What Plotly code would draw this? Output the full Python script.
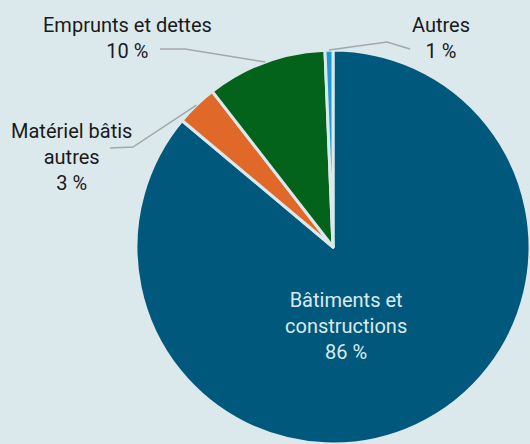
import math
import plotly.graph_objects as go

labels = ["Bâtiments et<br>constructions", "Matériel bâtis<br>autres", "Emprunts et dettes", "Autres"]
values = [86.1, 3.4, 9.85, 0.65]
colors = ["#00597c", "#e0692a", "#04631a", "#1b9ad6"]

W, H = 530, 444
BG = "#dce9ec"
FONT = "Roboto, sans-serif"

# pie domain in paper units
dom_x = [136 / W, 1.0]
dom_y = [0.0, 1 - 50 / H]

fig = go.Figure(go.Pie(
    labels=labels, values=values, sort=False, direction="clockwise", rotation=0,
    marker=dict(colors=colors, line=dict(color=BG, width=3)),
    textinfo="none", hoverinfo="label+percent", showlegend=False,
    domain=dict(x=dom_x, y=dom_y),
))

# geometry (pixels) derived from domain
dw = (dom_x[1] - dom_x[0]) * W
dh = (dom_y[1] - dom_y[0]) * H
r = min(dw, dh) / 2
cx = dom_x[0] * W + dw / 2
cy = (1 - dom_y[1]) * H + dh / 2

total = sum(values)
cum = 0
mids = []
for v in values:
    mids.append((cum + v / 2) / total * 2 * math.pi)
    cum += v

def px2paper(x, y):
    return x / W, 1 - y / H

# label placement (layout): text centre (px) and leader line start/bend
label_pos = [
    dict(xy=(346, 326), color="#dce9ec", line=None),
    dict(xy=(71, 157), color="#1a1a1a", line=[(110, 148), (133, 147)]),
    dict(xy=(127, 38), color="#1a1a1a", line=[(160, 49), (185, 49)]),
    dict(xy=(441, 38), color="#1a1a1a", line=[(410, 49), (387, 42)]),
]

shapes = []
annotations = []
for i, (lab, v) in enumerate(zip(labels, values)):
    pct = round(v / total * 100)
    lp = label_pos[i]
    x, y = px2paper(*lp["xy"])
    annotations.append(dict(
        x=x, y=y, xref="paper", yref="paper", xanchor="center", yanchor="middle",
        text=f"{lab}<br>{pct} %", showarrow=False, align="center",
        font=dict(family=FONT, size=20, color=lp["color"]),
    ))
    if lp["line"]:
        ex = cx + r * math.sin(mids[i])
        ey = cy - r * math.cos(mids[i])
        pts = lp["line"] + [(ex, ey)]
        path = "M " + " L ".join(f"{px2paper(a, b)[0]:.4f},{px2paper(a, b)[1]:.4f}" for a, b in pts)
        shapes.append(dict(type="path", path=path, xref="paper", yref="paper",
                           line=dict(color="#a3a7a9", width=1.5)))

fig.update_layout(
    width=W, height=H, margin=dict(l=0, r=0, t=0, b=0),
    paper_bgcolor=BG, plot_bgcolor=BG,
    shapes=shapes, annotations=annotations,
)

fig.write_html("out.html", config={"displayModeBar": False},
               post_script="document.body.style.margin='0';document.body.style.overflow='hidden';")
